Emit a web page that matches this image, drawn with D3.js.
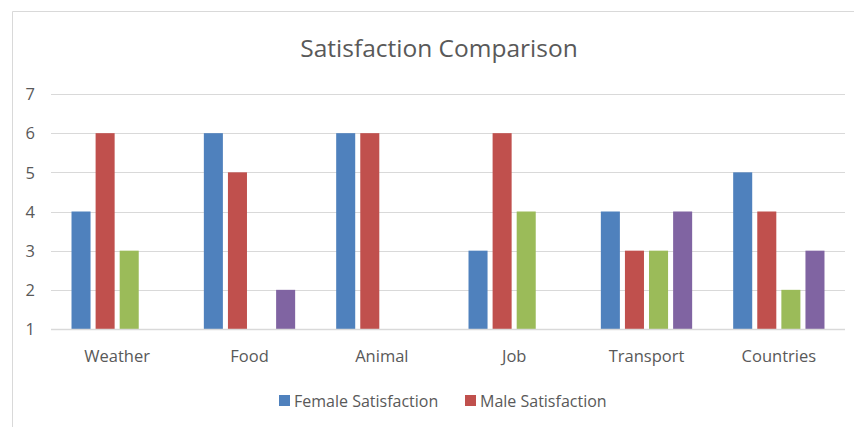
<!DOCTYPE html>
<html>
<head>
<meta charset="utf-8">
<script src="https://cdn.jsdelivr.net/npm/d3@7"></script>
<style>
  html, body { margin: 0; padding: 0; background: #fff; }
  svg { display: block; }
  text { font-family: "Open Sans", "Noto Sans", sans-serif; fill: #595959; }
</style>
</head>
<body>
<svg id="chart" width="854" height="427"></svg>
<script>
// Chart data
const categories = ["Weather", "Food", "Animal", "Job", "Transport", "Countries"];
const seriesNames = ["Female Satisfaction", "Male Satisfaction", "Series 3", "Series 4"];
const female = [4, 6, 6, 3, 4, 5];
const male = [6, 5, 6, 6, 3, 4];
const series3 = [3, null, null, 4, 3, 2];
const series4 = [null, 2, null, null, 4, 3];
const yTicks = [1, 2, 3, 4, 5, 6, 7];
const legendSeries = ["Female Satisfaction", "Male Satisfaction"];

const colors = ["#4F81BD", "#C0504D", "#9BBB59", "#8064A2"];
const allSeries = [female, male, series3, series4];

const svg = d3.select("#chart");
const W = 854, H = 427;
const plot = { left: 51, right: 845, top: 94, bottom: 329 };

// Chart frame (left and top edges visible)
svg.append("path")
  .attr("d", `M12.5,${H} L12.5,11.5 L${W},11.5`)
  .attr("fill", "none")
  .attr("stroke", "#D9D9D9")
  .attr("stroke-width", 1);

const x0 = d3.scaleBand().domain(categories).range([plot.left, plot.right]).paddingInner(0).paddingOuter(0);
const y = d3.scaleLinear().domain([1, 7]).range([plot.bottom, plot.top]);

// Bars sit inside each category band: 4 slots, centred
const groupWidth = x0.bandwidth() * 0.69;
const x1 = d3.scaleBand().domain(d3.range(4)).range([0, groupWidth]).paddingInner(0.21);

// Gridlines
svg.append("g").selectAll("line").data(yTicks.filter(t => t !== 1)).join("line")
  .attr("x1", plot.left).attr("x2", plot.right)
  .attr("y1", d => Math.round(y(d)) + 0.5).attr("y2", d => Math.round(y(d)) + 0.5)
  .attr("stroke", "#D9D9D9").attr("stroke-width", 1.2);

// Y axis labels
const yAxis = d3.axisLeft(y).tickValues(yTicks).tickSize(0).tickPadding(0).tickFormat(d3.format("d"));
const gy = svg.append("g").attr("transform", `translate(35,0)`).call(yAxis);
gy.select(".domain").remove();
gy.selectAll("text").attr("font-size", 16.5).style("font-family", '"Open Sans", sans-serif').attr("fill", "#595959").attr("dy", "0.35em");

// Bars
const groups = svg.append("g").selectAll("g").data(categories).join("g")
  .attr("transform", d => `translate(${x0(d) + (x0.bandwidth() - groupWidth) / 2},0)`);

groups.selectAll("rect")
  .data((c, i) => allSeries.map((s, k) => ({ k, v: s[i] })).filter(d => d.v != null))
  .join("rect")
  .attr("x", d => x1(d.k))
  .attr("width", x1.bandwidth())
  .attr("y", d => y(d.v))
  .attr("height", d => y(1) - y(d.v))
  .attr("fill", d => colors[d.k]);

// Baseline axis
svg.append("line")
  .attr("x1", plot.left).attr("x2", plot.right)
  .attr("y1", plot.bottom + 0.5).attr("y2", plot.bottom + 0.5)
  .attr("stroke", "#D9D9D9").attr("stroke-width", 1.5);

// Category labels
const xAxis = d3.axisBottom(x0).tickSize(0).tickPadding(0);
const gx = svg.append("g").attr("transform", `translate(0,${plot.bottom + 27})`).call(xAxis);
gx.select(".domain").remove();
gx.selectAll("text").attr("font-size", 16.5).style("font-family", '"Open Sans", sans-serif').attr("fill", "#595959").attr("dy", "0.35em");

// Title
svg.append("text")
  .attr("x", 439).attr("y", 57)
  .attr("text-anchor", "middle")
  .attr("font-size", 24.5)
  .text("Satisfaction Comparison");

// Legend
const legendItems = [
  { name: legendSeries[0], color: colors[0], x: 279 },
  { name: legendSeries[1], color: colors[1], x: 465 }
];
const lg = svg.append("g").selectAll("g").data(legendItems).join("g")
  .attr("transform", d => `translate(${d.x},395)`);
lg.append("rect").attr("width", 11).attr("height", 11).attr("fill", d => d.color);
lg.append("text").attr("x", 15).attr("y", 6).attr("dy", "0.35em")
  .attr("font-size", 16).text(d => d.name);
</script>
</body>
</html>
